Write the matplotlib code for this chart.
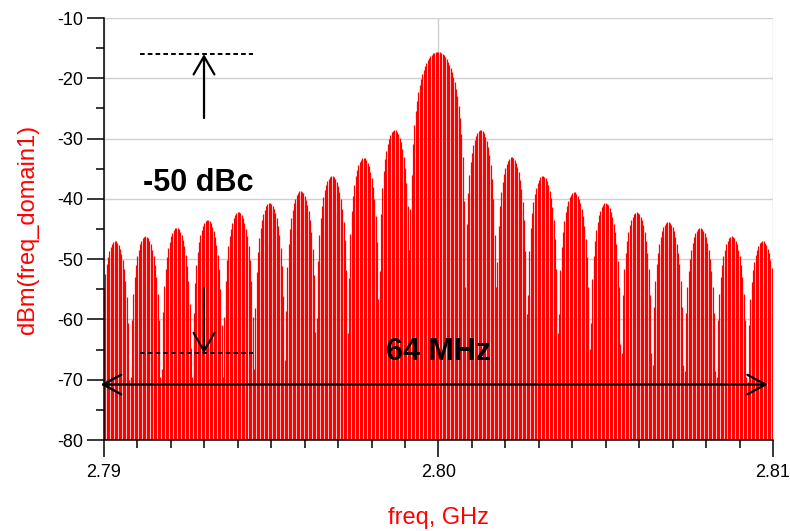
import numpy as np
import matplotlib
matplotlib.use("Agg")
import matplotlib.pyplot as plt
from matplotlib.ticker import MultipleLocator

plt.rcParams['font.family'] = ['Liberation Sans', 'DejaVu Sans']
plt.rcParams['axes.unicode_minus'] = False

# lobe edges (nulls) of the spectrum envelope, GHz
lobe_nulls = [2.78988, 2.79078, 2.79170, 2.79263, 2.79356, 2.79448, 2.79541,
              2.79634, 2.79729, 2.79822, 2.79915, 2.80079, 2.80172, 2.80265,
              2.80357, 2.80453, 2.80546, 2.80638, 2.80734, 2.80830, 2.80922,
              2.81015]
# peak level of each lobe, dBm
lobe_peaks = [-47.0, -46.2, -44.8, -43.5, -42.2, -40.7, -38.7, -36.2, -33.2,
              -28.6, -15.6, -28.6, -33.1, -36.2, -38.9, -40.7, -42.2, -43.8,
              -44.8, -46.2, -47.0]
line_spacing = 0.00004  # GHz between spectral lines
max_null_depth = 26     # dB, deepest line next to a null

floor = -80

nulls = np.array(lobe_nulls)
peaks = np.array(lobe_peaks)
freqs = np.arange(2.79, 2.81 + line_spacing / 2, line_spacing)
idx = np.clip(np.searchsorted(nulls, freqs, side='right') - 1, 0, len(peaks) - 1)
u = (freqs - nulls[idx]) / (nulls[idx + 1] - nulls[idx])
shape = np.maximum(np.sin(np.pi * u), 10 ** (-max_null_depth / 20))
level = np.maximum(peaks[idx] + 20 * np.log10(shape), floor)

fig = plt.figure(figsize=(7.9, 5.31), dpi=100)
ax = fig.add_axes([104 / 790, 1 - 440 / 531, 669 / 790, 422 / 531])

ax.vlines(freqs, floor, level, color='#ff0000', linewidth=0.9)

ax.set_xlim(2.79, 2.81)
ax.set_ylim(-80, -10)
ax.xaxis.set_major_locator(MultipleLocator(0.01))
ax.xaxis.set_minor_locator(MultipleLocator(0.001))
ax.yaxis.set_major_locator(MultipleLocator(10))
ax.yaxis.set_minor_locator(MultipleLocator(5))
ax.set_xticks([2.79, 2.80, 2.81], ['2.79', '2.80', '2.81'])
ax.grid(True, which='major', color='#d0d0d0', linewidth=1.0)
ax.set_axisbelow(True)
ax.tick_params(which='major', length=12, width=1.1, labelsize=13, pad=3)
ax.tick_params(axis='x', which='major', pad=5)
ax.tick_params(which='minor', length=5.5, width=1.1)
for side in ['top', 'right']:
    ax.spines[side].set_visible(False)
for side in ['left', 'bottom']:
    ax.spines[side].set_linewidth(1.1)

ax.set_ylabel('dBm(freq_domain1)', color='#ff0000', fontsize=17, labelpad=13)
ax.set_xlabel('freq, GHz', color='#ff0000', fontsize=17, labelpad=19)

# annotations
dash = (0, (2.4, 1.6))
ax.plot([2.79108, 2.79446], [-16, -16], color='black', linestyle=dash, linewidth=1.4)
ax.plot([2.79108, 2.79446], [-65.6, -65.6], color='black', linestyle=dash, linewidth=1.4)
arrow = dict(arrowstyle='->,head_length=1.3,head_width=0.75', color='black', lw=1.6,
             shrinkA=0, shrinkB=0)
ax.annotate('', xy=(2.79299, -16), xytext=(2.79299, -26.6), arrowprops=arrow)
ax.annotate('', xy=(2.79299, -65.6), xytext=(2.79299, -54.8), arrowprops=arrow)
ax.annotate('', xy=(2.7899, -70.8), xytext=(2.80985, -70.8),
            arrowprops=dict(arrowstyle='<->,head_length=1.3,head_width=0.7',
                            color='black', lw=1.7, shrinkA=0, shrinkB=0),
            annotation_clip=False)
ax.text(2.79117, -37.4, '-50 dBc', fontsize=22, fontweight='bold', va='center', ha='left')
ax.text(2.80, -65.4, '64 MHz', fontsize=22, fontweight='bold', va='center', ha='center')

fig.savefig('out.png', dpi=100)
